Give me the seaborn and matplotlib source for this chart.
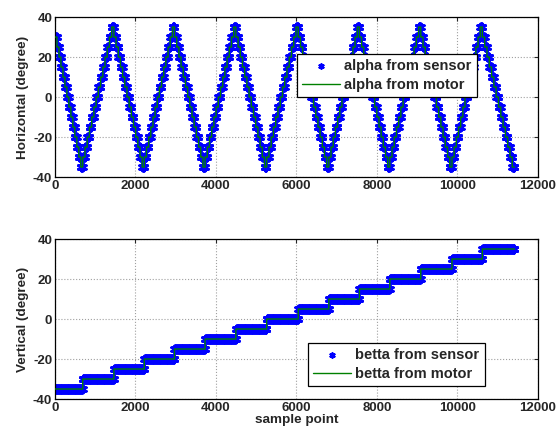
import numpy as np
import pandas as pd
import matplotlib
matplotlib.use("Agg")
import matplotlib.pyplot as plt
import seaborn as sns

# ---- data ----
# sample index where each betta step / alpha sweep begins and ends
step_edges = [0, 690, 1465, 2220, 2970, 3730, 4495, 5260, 6045,
              6805, 7565, 8320, 9090, 9865, 10620, 11420]
betta_levels = [-35, -30, -25, -20, -15, -10, -5, 0, 5, 10, 15, 20, 25, 30, 35]
# alpha turning values at the sweep edges
alpha_turns = [30, -35, 35, -35, 35, -35, 35, -35, 35,
               -35, 35, -35, 35, -35, 35, -35]
alpha_increment = 5
x_ticks = [0, 2000, 4000, 6000, 8000, 10000, 12000]
y_ticks = [-40, -20, 0, 20, 40]

# ---- expand step holds into samples ----
samples, alpha, betta = [], [], []
for i in range(len(step_edges) - 1):
    a0, a1 = alpha_turns[i], alpha_turns[i + 1]
    d = -alpha_increment if a1 < a0 else alpha_increment
    lev = list(range(a0, a1 + d, d))
    if i > 0:
        lev = lev[1:]
    n = step_edges[i + 1] - step_edges[i]
    idx = np.arange(step_edges[i], step_edges[i + 1])
    seg = (np.arange(n) * len(lev)) // n
    samples.extend(idx)
    alpha.extend(np.array(lev)[seg])
    betta.extend([betta_levels[i]] * n)

df = pd.DataFrame({"x": samples, "alpha": alpha, "betta": betta})
sub = df.iloc[::6]

sns.set_style("white")
plt.rcParams["font.family"] = ["Liberation Sans", "DejaVu Sans"]
plt.rcParams["font.weight"] = "bold"
plt.rcParams["font.size"] = 9.5

fig = plt.figure(figsize=(5.57, 4.34), dpi=100)
ax1 = fig.add_axes([0.0987, 0.592, 0.867, 0.3687])
ax2 = fig.add_axes([0.0987, 0.0806, 0.867, 0.3687])

blue = (0, 0, 1)
green = (0, 0.5, 0)
ast = (6, 2, 0)

for ax, col, name, ylab in [(ax1, "alpha", "alpha", "Horizontal (degree)"),
                            (ax2, "betta", "betta", "Vertical (degree)")]:
    sns.scatterplot(data=sub, x="x", y=col, ax=ax, marker=ast, s=30,
                    color=blue, edgecolor=blue, linewidth=1.5,
                    label=f"{name} from sensor", zorder=2)
    sns.lineplot(data=df, x="x", y=col, ax=ax, color=green, linewidth=1.0,
                 estimator=None, drawstyle="steps-post",
                 label=f"{name} from motor", zorder=3)
    ax.set_xlim(0, 12000)
    ax.set_ylim(-40, 40)
    ax.set_xticks(x_ticks)
    ax.set_yticks(y_ticks)
    ax.set_xticklabels([str(t) for t in x_ticks], fontweight="bold")
    ax.set_yticklabels([str(t) for t in y_ticks], fontweight="bold")
    ax.set_ylabel(ylab, fontweight="bold", labelpad=3, fontsize=9.7)
    ax.set_xlabel("")
    ax.grid(True, color="#a0a0a0", linestyle=":", linewidth=0.8)
    ax.tick_params(direction="in", top=True, right=True, length=3,
                   width=0.8, pad=2, labelsize=9.5)
    for s in ax.spines.values():
        s.set_color("black")
        s.set_linewidth(0.9)

ax2.set_xlabel("sample point", fontweight="bold", labelpad=0, fontsize=9.7)

legkw = dict(borderaxespad=0, fancybox=False, edgecolor="black",
             framealpha=1, handlelength=2.6, borderpad=0.35,
             labelspacing=0.35, handletextpad=0.3, markerscale=0.6,
             prop={"weight": "bold", "size": 10.5})
leg1 = ax1.legend(loc="upper left", bbox_to_anchor=(0.501, 0.769), **legkw)
leg2 = ax2.legend(loc="lower left", bbox_to_anchor=(0.524, 0.081), **legkw)
for leg in (leg1, leg2):
    leg.get_frame().set_linewidth(0.9)

fig.savefig("out.png", dpi=100)
